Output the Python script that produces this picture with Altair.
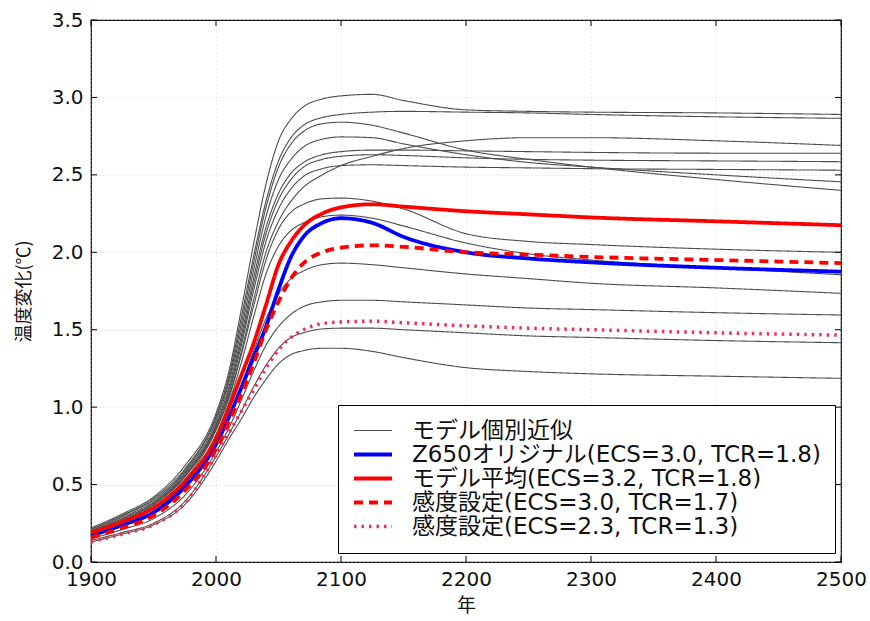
import altair as alt
import pandas as pd

YEARS = [1900, 1925, 1950, 1975, 2000, 2010, 2020, 2030, 2040, 2050, 2060, 2070, 2085,
         2100, 2125, 2150, 2200, 2250, 2300, 2400, 2500]

GRAY_CURVES = [
    [0.22, 0.31, 0.42, 0.62, 0.96, 1.22, 1.62, 2.05, 2.44, 2.72, 2.86, 2.94, 2.99, 3.01, 3.02, 2.98, 2.92, 2.91, 2.905, 2.90, 2.89],
    [0.21, 0.30, 0.41, 0.60, 0.94, 1.19, 1.57, 1.97, 2.33, 2.59, 2.74, 2.82, 2.87, 2.89, 2.905, 2.91, 2.905, 2.90, 2.89, 2.875, 2.865],
    [0.21, 0.30, 0.40, 0.59, 0.93, 1.17, 1.53, 1.93, 2.29, 2.55, 2.70, 2.78, 2.83, 2.84, 2.82, 2.77, 2.66, 2.60, 2.55, 2.47, 2.40],
    [0.20, 0.29, 0.39, 0.58, 0.91, 1.15, 1.49, 1.88, 2.23, 2.47, 2.60, 2.68, 2.73, 2.745, 2.74, 2.70, 2.63, 2.58, 2.55, 2.50, 2.455],
    [0.19, 0.27, 0.37, 0.55, 0.86, 1.06, 1.35, 1.69, 2.00, 2.20, 2.33, 2.42, 2.50, 2.56, 2.62, 2.67, 2.72, 2.74, 2.74, 2.72, 2.69],
    [0.20, 0.28, 0.38, 0.57, 0.89, 1.12, 1.45, 1.83, 2.16, 2.38, 2.51, 2.58, 2.63, 2.65, 2.66, 2.66, 2.655, 2.65, 2.645, 2.64, 2.64],
    [0.19, 0.28, 0.38, 0.56, 0.88, 1.10, 1.42, 1.79, 2.12, 2.34, 2.47, 2.55, 2.60, 2.62, 2.63, 2.625, 2.61, 2.60, 2.595, 2.59, 2.585],
    [0.19, 0.27, 0.37, 0.55, 0.87, 1.08, 1.39, 1.75, 2.07, 2.28, 2.41, 2.49, 2.54, 2.56, 2.565, 2.56, 2.55, 2.545, 2.54, 2.535, 2.53],
    [0.18, 0.26, 0.35, 0.53, 0.85, 1.05, 1.33, 1.65, 1.95, 2.15, 2.26, 2.31, 2.345, 2.35, 2.33, 2.28, 2.12, 2.07, 2.05, 2.02, 2.00],
    [0.18, 0.25, 0.34, 0.51, 0.82, 1.02, 1.28, 1.58, 1.86, 2.04, 2.14, 2.19, 2.23, 2.24, 2.22, 2.17, 2.06, 1.99, 1.95, 1.90, 1.855],
    [0.16, 0.23, 0.31, 0.47, 0.75, 0.92, 1.13, 1.36, 1.57, 1.73, 1.83, 1.88, 1.92, 1.93, 1.92, 1.90, 1.86, 1.83, 1.80, 1.77, 1.735],
    [0.15, 0.21, 0.28, 0.43, 0.71, 0.86, 1.04, 1.23, 1.40, 1.52, 1.60, 1.65, 1.68, 1.69, 1.69, 1.68, 1.66, 1.64, 1.63, 1.61, 1.595],
    [0.14, 0.19, 0.25, 0.39, 0.68, 0.82, 0.97, 1.13, 1.27, 1.38, 1.45, 1.48, 1.505, 1.51, 1.51, 1.50, 1.48, 1.46, 1.45, 1.43, 1.416],
    [0.13, 0.18, 0.24, 0.37, 0.65, 0.79, 0.92, 1.06, 1.18, 1.28, 1.34, 1.365, 1.38, 1.38, 1.36, 1.32, 1.255, 1.23, 1.215, 1.20, 1.186],
]

Z650 = [0.17, 0.24, 0.32, 0.49, 0.76, 0.93, 1.12, 1.32, 1.52, 1.76, 1.97, 2.10, 2.19, 2.22, 2.19, 2.10, 2.00, 1.96, 1.935, 1.90, 1.875]
MEAN = [0.19, 0.26, 0.35, 0.52, 0.80, 0.99, 1.20, 1.41, 1.66, 1.92, 2.07, 2.17, 2.25, 2.29, 2.31, 2.295, 2.265, 2.245, 2.225, 2.20, 2.175]
SENS_30 = [0.16, 0.22, 0.30, 0.46, 0.73, 0.90, 1.08, 1.28, 1.50, 1.68, 1.83, 1.93, 2.00, 2.03, 2.045, 2.035, 2.00, 1.985, 1.97, 1.95, 1.93]
SENS_23 = [0.13, 0.18, 0.24, 0.38, 0.69, 0.83, 0.97, 1.11, 1.25, 1.37, 1.45, 1.50, 1.54, 1.55, 1.555, 1.545, 1.525, 1.51, 1.50, 1.48, 1.465]

LABELS = [
    "モデル個別近似",
    "Z650オリジナル(ECS=3.0, TCR=1.8)",
    "モデル平均(ECS=3.2, TCR=1.8)",
    "感度設定(ECS=3.0, TCR=1.7)",
    "感度設定(ECS=2.3, TCR=1.3)",
]
COLORS = ["#4d4d4d", "#0000ff", "#ff0000", "#ff0000", "#f0305c"]
WIDTHS = [1.1, 3.8, 3.8, 3.8, 3.5]
DASHES = [[1, 0], [1, 0], [1, 0], [9, 6], [2.5, 5]]

TICK_YEARS = [1900, 2000, 2100, 2200, 2300, 2400, 2500]
TICK_TEMPS = [0.0, 0.5, 1.0, 1.5, 2.0, 2.5, 3.0, 3.5]

rows = []
for i, curve in enumerate(GRAY_CURVES):
    for yr, v in zip(YEARS, curve):
        rows.append({"year": yr, "v": v, "label": LABELS[0], "curve": f"g{i}", "kind": 0})
for name, lab, curve in [("z650", LABELS[1], Z650), ("mean", LABELS[2], MEAN),
                         ("s30", LABELS[3], SENS_30), ("s23", LABELS[4], SENS_23)]:
    for yr, v in zip(YEARS, curve):
        rows.append({"year": yr, "v": v, "label": lab, "curve": name, "kind": 1})
df = pd.DataFrame(rows)

tick_x = pd.DataFrame({"year": TICK_YEARS})
tick_y = pd.DataFrame({"v": TICK_TEMPS})

xscale = alt.Scale(domain=[1900, 2500], nice=False, zero=False)
yscale = alt.Scale(domain=[0, 3.5], nice=False, zero=True)

xaxis = alt.Axis(values=TICK_YEARS, format="d", labelFontSize=20, labelFont="DejaVu Sans",
                 labelColor="#111111", ticks=False, domain=False, labelPadding=7,
                 labelFlush=False, labelOverlap=False,
                 grid=True, gridColor="#b8b8b8", gridDash=[1, 3], gridOpacity=0.6,
                 title="年", titleFont="Noto Sans CJK JP", titleFontSize=19,
                 titleFontWeight="normal", titleColor="#111111", titlePadding=7)
yaxis = alt.Axis(values=TICK_TEMPS, format=".1f", labelFontSize=20, labelFont="DejaVu Sans",
                 labelColor="#111111", ticks=False, domain=False, labelPadding=8,
                 labelFlush=False, labelOverlap=False,
                 grid=True, gridColor="#b8b8b8", gridDash=[1, 3], gridOpacity=0.6,
                 title="温度変化(℃)", titleFont="Noto Sans CJK JP", titleFontSize=18,
                 titleFontWeight="normal", titleColor="#111111", titlePadding=18)

X = alt.X("year:Q", scale=xscale, axis=xaxis)
Y = alt.Y("v:Q", scale=yscale, axis=yaxis)

legend = alt.Legend(title=None, orient="none", legendX=247, legendY=385,
                    fillColor="white", strokeColor="black", padding=14, cornerRadius=0,
                    symbolType="M-1,0H3", symbolSize=361, labelFontSize=23,
                    labelFont="DejaVu Sans, Noto Sans CJK JP", labelColor="#111111",
                    labelOffset=37, rowPadding=-1, labelLimit=700)

enc = dict(
    x=X, y=Y,
    color=alt.Color("label:N", scale=alt.Scale(domain=LABELS, range=COLORS), legend=legend),
    strokeDash=alt.StrokeDash("label:N", scale=alt.Scale(domain=LABELS, range=DASHES), legend=legend),
    strokeWidth=alt.StrokeWidth("label:N", scale=alt.Scale(type="ordinal", domain=LABELS, range=WIDTHS), legend=legend),
    detail="curve:N",
)

base = alt.Chart(df).mark_line(interpolate="monotone")
gray = base.transform_filter(alt.datum.kind == 0).encode(**enc)
colored = base.transform_filter(alt.datum.kind == 1).encode(**enc)

tb = alt.Chart(tick_x).mark_rule(color="black", strokeWidth=1).encode(x=X, y=alt.value(542), y2=alt.value(536))
tt = alt.Chart(tick_x).mark_rule(color="black", strokeWidth=1).encode(x=X, y=alt.value(0), y2=alt.value(6))
tl = alt.Chart(tick_y).mark_rule(color="black", strokeWidth=1).encode(y=Y, x=alt.value(0), x2=alt.value(6))
tr = alt.Chart(tick_y).mark_rule(color="black", strokeWidth=1).encode(y=Y, x=alt.value(750), x2=alt.value(744))

chart = alt.layer(gray, colored, tb, tt, tl, tr).properties(
    width=750, height=542,
    autosize=alt.AutoSizeParams(type="none"),
    padding={"left": 91, "top": 20, "right": 29, "bottom": 59},
    background="white",
).configure_view(stroke="black", strokeWidth=1.2)

chart.save("out.html", embed_options={"renderer": "svg", "actions": False})
